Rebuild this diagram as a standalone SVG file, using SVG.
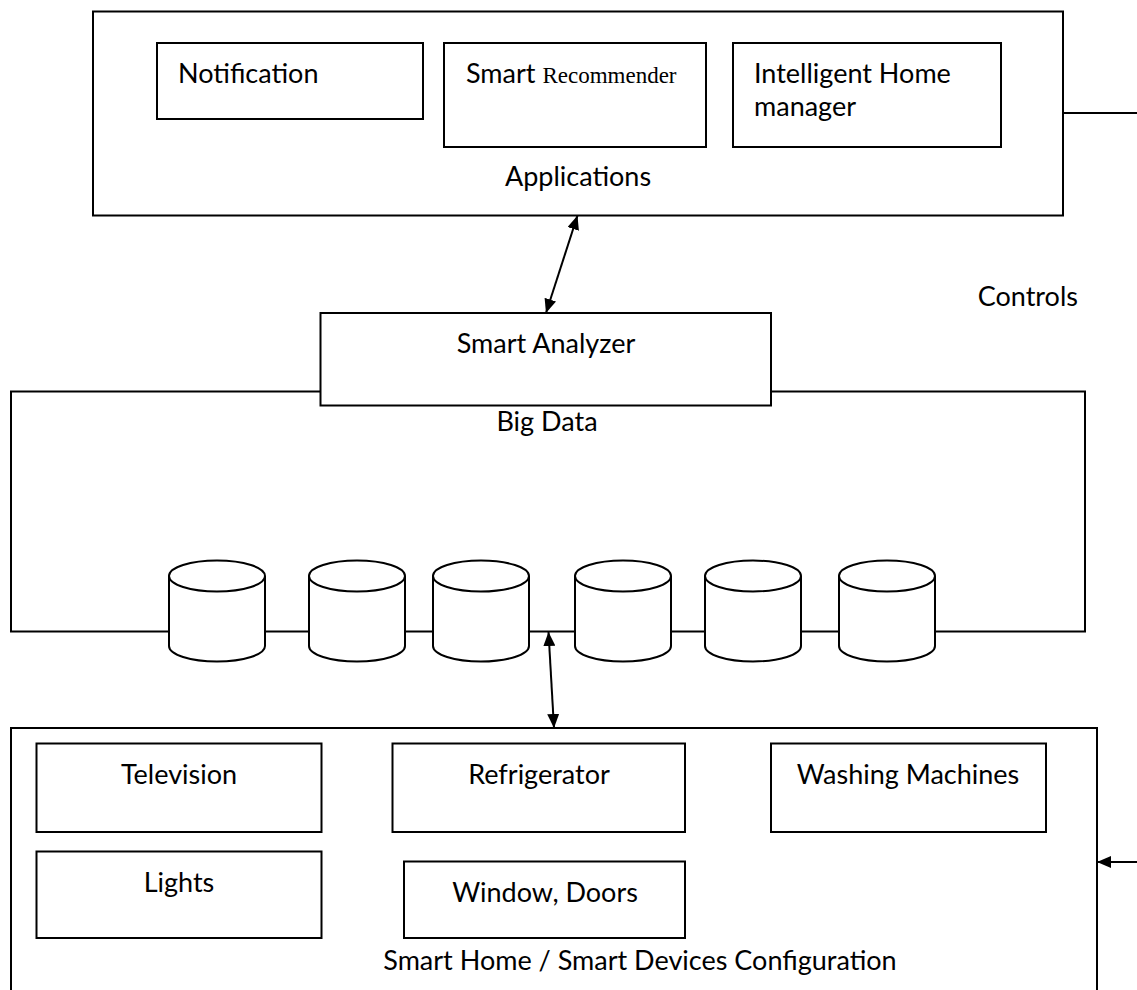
<svg xmlns="http://www.w3.org/2000/svg" width="1137" height="990" viewBox="0 0 1137 990">
<style>
.b{fill:#fff;stroke:#000;stroke-width:2}
.t{font-family:Lato,"Liberation Sans",sans-serif;font-size:27px;fill:#000}
.c{text-anchor:middle}
.ln{stroke:#000;stroke-width:2;fill:none}
</style>
<defs>
<marker id="ah" viewBox="0 0 14 12" refX="14" refY="6" markerWidth="14" markerHeight="12" markerUnits="userSpaceOnUse" orient="auto-start-reverse">
<path d="M0,0 L14,6 L0,12 z" fill="#000"/>
</marker>
</defs>
<rect width="1137" height="990" fill="#fff"/>
<g id="applications">
<rect class="b" x="93" y="11.5" width="970" height="204"/>
<text class="t c" x="578" y="186">Applications</text>
</g>
<g id="notification">
<rect class="b" x="157" y="43" width="266" height="76"/>
<text class="t" x="178" y="83">Notification</text>
</g>
<g id="smart-recommender">
<rect class="b" x="444" y="43" width="262" height="104"/>
<text class="t" x="466" y="83">Smart <tspan font-family="'Liberation Serif',serif" font-size="23">Recommender</tspan></text>
</g>
<g id="intelligent-home-manager">
<rect class="b" x="733" y="43" width="268" height="104"/>
<text class="t" x="754" y="83">Intelligent Home</text>
<text class="t" x="754" y="116">manager</text>
</g>
<g id="controls-label">
<text class="t" x="1078" y="306" text-anchor="end">Controls</text>
</g>
<g id="big-data">
<rect class="b" x="11" y="391.5" width="1074" height="240"/>
<text class="t c" x="547" y="431">Big Data</text>
</g>
<g id="smart-analyzer">
<rect class="b" x="320.5" y="313" width="450.5" height="92.5"/>
<text class="t c" x="546" y="353">Smart Analyzer</text>
</g>
<g id="databases">
<g id="db1"><path class="b" d="M169,576 V646 A48,15.5 0 0 0 265,646 V576"/><ellipse class="b" cx="217" cy="576" rx="48" ry="15.5"/></g>
<g id="db2"><path class="b" d="M309,576 V646 A48,15.5 0 0 0 405,646 V576"/><ellipse class="b" cx="357" cy="576" rx="48" ry="15.5"/></g>
<g id="db3"><path class="b" d="M433,576 V646 A48,15.5 0 0 0 529,646 V576"/><ellipse class="b" cx="481" cy="576" rx="48" ry="15.5"/></g>
<g id="db4"><path class="b" d="M575,576 V646 A48,15.5 0 0 0 671,646 V576"/><ellipse class="b" cx="623" cy="576" rx="48" ry="15.5"/></g>
<g id="db5"><path class="b" d="M705,576 V646 A48,15.5 0 0 0 801,646 V576"/><ellipse class="b" cx="753" cy="576" rx="48" ry="15.5"/></g>
<g id="db6"><path class="b" d="M839,576 V646 A48,15.5 0 0 0 935,646 V576"/><ellipse class="b" cx="887" cy="576" rx="48" ry="15.5"/></g>
</g>
<g id="smart-home">
<rect class="b" x="11" y="728" width="1086" height="280"/>
<text class="t c" x="640" y="970">Smart Home / Smart Devices Configuration</text>
</g>
<g id="television">
<rect class="b" x="36.5" y="743.5" width="285" height="88.5"/>
<text class="t c" x="179" y="784">Television</text>
</g>
<g id="refrigerator">
<rect class="b" x="392.5" y="743.5" width="292.5" height="88.5"/>
<text class="t c" x="539" y="784">Refrigerator</text>
</g>
<g id="washing-machines">
<rect class="b" x="771" y="743.5" width="275" height="88.5"/>
<text class="t c" x="908" y="784">Washing Machines</text>
</g>
<g id="lights">
<rect class="b" x="36.5" y="851.5" width="285" height="86.5"/>
<text class="t c" x="179" y="892">Lights</text>
</g>
<g id="window-doors">
<rect class="b" x="404" y="861.5" width="281" height="76.5"/>
<text class="t c" x="545" y="902">Window, Doors</text>
</g>
<g id="connectors">
<line class="ln" x1="577.5" y1="215.5" x2="546" y2="313" marker-start="url(#ah)" marker-end="url(#ah)"/>
<line class="ln" x1="548.5" y1="632" x2="554" y2="728" marker-start="url(#ah)" marker-end="url(#ah)"/>
<line class="ln" x1="1063" y1="113" x2="1137" y2="113"/>
<line class="ln" x1="1137" y1="862" x2="1097" y2="862" marker-end="url(#ah)"/>
</g>
</svg>
